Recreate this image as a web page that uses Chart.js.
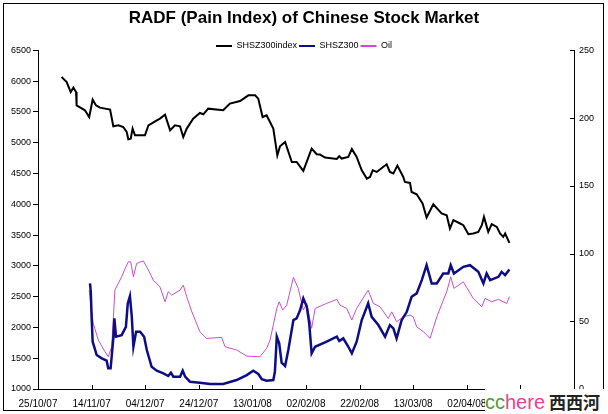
<!DOCTYPE html>
<html>
<head>
<meta charset="utf-8">
<script src="https://cdn.jsdelivr.net/npm/chart.js@4.4.1/dist/chart.umd.min.js"></script>
<style>
  html, body { margin: 0; padding: 0; background: #fff; }
  #wrap { position: relative; width: 608px; height: 414px; }
  #frame { position: absolute; left: 3px; top: 3px; width: 599px; height: 406px; border: 1px solid #000; pointer-events: none; }
  #mark { position: absolute; left: 485px; top: 389px; width: 123px; height: 25px; background: #fff;
          font-family: Arial, "Liberation Sans", sans-serif; font-size: 20px; line-height: 25px; white-space: nowrap; }
  #mark .cc { color: #4f9a3c; }
  #mark .here { color: #e2449a; }
  #mark .cn { font-family: "Noto Sans CJK SC", sans-serif; font-size: 17px; font-weight: bold; color: #222; margin-left: 4px; }
</style>
</head>
<body>
<div id="wrap">
  <canvas id="radfChart"></canvas>
  <div id="frame"></div>
  <div id="mark"><span class="cc">cc</span><span class="here">here</span><span class="cn">西西河</span></div>
</div>
<script>
// x values are days counted from 25/10/07
const indexDays = [8.8, 10.7, 12.2, 13.2, 14.2, 14.4, 16.3, 17.5, 19.1, 20.4, 21.6, 23.1, 26.9, 28.1, 30.0, 31.8, 33.1, 33.7, 34.6, 35.3, 36.2, 39.9, 41.2, 43.7, 45.5, 47.4, 49.3, 51.1, 53.0, 54.2, 55.5, 57.9, 60.4, 61.7, 63.5, 69.1, 71.6, 75.4, 78.5, 81.0, 82.2, 83.8, 85.3, 87.8, 89.3, 90.3, 92.2, 94.7, 96.5, 99.0, 102.1, 104.0, 105.2, 107.1, 111.5, 112.4, 113.3, 115.8, 117.1, 118.9, 120.8, 122.7, 123.9, 124.9, 126.4, 130.1, 131.3, 132.6, 134.1, 136.3, 136.9, 138.8, 139.4, 141.3, 143.5, 145.0, 147.5, 150.6, 152.5, 153.7, 155.0, 157.5, 158.7, 160.6, 162.4, 164.3, 165.6, 166.4, 168.0, 169.3, 171.2, 172.4, 173.6, 174.3, 175.9];
const indexValues = [6067, 5986, 5824, 5895, 5824, 5608, 5559, 5527, 5418, 5700, 5608, 5570, 5538, 5267, 5283, 5256, 5175, 5056, 5067, 5230, 5121, 5121, 5283, 5348, 5392, 5457, 5202, 5283, 5267, 5093, 5230, 5392, 5483, 5462, 5554, 5527, 5635, 5677, 5770, 5770, 5716, 5418, 5445, 5230, 4796, 4942, 5012, 4688, 4688, 4542, 4905, 4813, 4808, 4759, 4736, 4780, 4743, 4769, 4899, 4769, 4553, 4418, 4444, 4553, 4526, 4650, 4526, 4500, 4629, 4444, 4363, 4347, 4201, 4164, 4013, 3786, 4001, 3851, 3823, 3607, 3742, 3688, 3661, 3515, 3526, 3552, 3661, 3796, 3552, 3677, 3633, 3526, 3471, 3526, 3374];

const radfDays = [19.4, 19.7, 20.0, 20.4, 21.9, 23.8, 25.6, 26.2, 27.1, 28.1, 28.5, 29.1, 31.2, 32.8, 33.5, 34.3, 35.0, 35.6, 36.6, 38.1, 39.6, 40.6, 42.4, 44.3, 46.8, 48.6, 49.6, 50.5, 53.0, 54.0, 54.9, 56.7, 60.4, 64.2, 69.1, 74.1, 77.9, 80.3, 82.2, 83.5, 85.3, 87.8, 88.4, 89.1, 90.0, 90.9, 92.2, 93.4, 95.3, 96.5, 97.8, 99.0, 100.3, 101.2, 102.1, 103.4, 107.7, 111.5, 112.4, 113.9, 115.8, 117.1, 118.9, 120.8, 123.2, 124.5, 127.0, 129.5, 131.3, 132.6, 133.8, 135.7, 137.6, 139.4, 141.3, 143.2, 145.0, 146.9, 148.8, 151.2, 153.1, 154.0, 155.2, 158.7, 161.2, 164.3, 166.2, 167.4, 168.7, 171.8, 173.0, 174.3, 175.9];
const radfValues = [78.0, 71.8, 53.3, 34.9, 25.1, 22.6, 20.9, 15.3, 15.3, 37.4, 52.1, 38.6, 39.8, 45.9, 63.2, 68.6, 53.3, 31.2, 42.3, 42.3, 38.6, 28.8, 16.4, 13.5, 11.6, 9.6, 12.0, 9.1, 9.1, 13.5, 9.1, 5.4, 4.6, 3.7, 3.7, 6.6, 10.3, 13.5, 11.1, 7.2, 6.1, 6.6, 12.8, 38.6, 33.7, 19.4, 17.0, 28.8, 50.9, 52.1, 58.3, 66.9, 60.7, 48.5, 26.3, 31.2, 34.9, 38.6, 35.4, 37.4, 31.2, 26.3, 34.9, 50.9, 63.2, 53.3, 47.2, 38.6, 47.2, 44.8, 37.4, 50.9, 57.0, 68.1, 70.6, 80.4, 91.4, 77.9, 77.9, 85.3, 85.3, 91.4, 85.3, 90.2, 91.4, 86.5, 77.9, 85.3, 80.4, 82.8, 86.5, 84.1, 88.3];

const oilDays = [19.1, 20.6, 22.5, 25.0, 26.2, 27.5, 28.7, 31.2, 32.8, 33.7, 34.6, 35.6, 36.8, 39.3, 41.2, 43.0, 45.5, 47.4, 48.6, 49.9, 53.0, 54.2, 55.5, 57.4, 60.4, 62.9, 68.5, 69.8, 74.1, 77.9, 82.8, 85.3, 86.6, 89.1, 90.0, 91.3, 92.8, 95.3, 97.1, 99.0, 100.3, 102.1, 103.4, 107.7, 111.5, 112.7, 115.2, 117.1, 118.9, 123.2, 125.1, 127.6, 130.7, 132.0, 133.8, 136.3, 138.8, 140.0, 141.3, 143.8, 146.3, 148.8, 152.5, 154.0, 155.2, 158.7, 162.4, 165.6, 166.8, 169.3, 171.8, 174.9, 175.9];
const oilValues = [73.0, 48.5, 36.1, 27.5, 23.8, 31.2, 73.0, 82.8, 90.2, 93.9, 93.9, 82.8, 92.7, 94.6, 87.8, 80.4, 75.4, 64.4, 71.8, 69.3, 73.0, 76.7, 68.1, 57.0, 42.3, 37.4, 38.1, 31.2, 28.8, 24.3, 23.8, 30.0, 36.1, 59.5, 64.4, 58.3, 61.9, 82.4, 74.3, 58.3, 63.2, 44.8, 59.5, 63.2, 66.2, 61.9, 59.5, 50.9, 59.5, 73.0, 63.2, 60.7, 52.1, 57.0, 49.6, 53.3, 54.6, 53.3, 45.9, 42.3, 37.4, 53.3, 71.8, 82.8, 74.3, 79.1, 66.9, 60.7, 66.9, 64.4, 66.2, 63.2, 68.1];

const leftTicks = { min: 1000, max: 6500, step: 500 };
const rightTicks = { min: 0, max: 250, step: 50 };
const dayTicks = { min: 0, max: 200, step: 20 };
const startDate = Date.UTC(2007, 9, 25);

function pair(xs, ys) {
    return xs.map((x, i) => ({ x: x, y: ys[i] }));
}

function dayLabel(day) {
    const d = new Date(startDate + day * 86400000);
    const dd = String(d.getUTCDate()).padStart(2, '0');
    const mm = String(d.getUTCMonth() + 1).padStart(2, '0');
    const yy = String(d.getUTCFullYear()).slice(2);
    return dd + '/' + mm + '/' + yy;
}

// tick marks pointing into the plot (x axis and right axis)
const innerTicks = {
    id: 'innerTicks',
    afterDraw(chart) {
        const ctx = chart.ctx;
        const x = chart.scales.x;
        const y1 = chart.scales.y1;
        ctx.save();
        ctx.strokeStyle = '#000';
        ctx.lineWidth = 1;
        ctx.beginPath();
        x.ticks.forEach(t => {
            const px = Math.round(x.getPixelForValue(t.value)) + 0.5;
            ctx.moveTo(px, x.top);
            ctx.lineTo(px, x.top - 4);
        });
        y1.ticks.forEach(t => {
            const py = Math.round(y1.getPixelForValue(t.value)) + 0.5;
            ctx.moveTo(y1.left, py);
            ctx.lineTo(y1.left - 4, py);
        });
        ctx.stroke();
        ctx.restore();
    }
};

// keep the legend row short so the plot starts right under it
const legendHeight = {
    id: 'legendHeight',
    beforeLayout(chart) {
        const legend = chart.legend;
        if (legend && !legend._shortFit) {
            const fit = legend.fit;
            legend.fit = function () { fit.call(this); this.height = 11; };
            legend._shortFit = true;
        }
    }
};

const tickFont = { family: 'Arial, "Liberation Sans", sans-serif', size: 9 };

new Chart(document.getElementById('radfChart'), {
    type: 'line',
    data: {
        datasets: [{
            label: 'SHSZ300index',
            data: pair(indexDays, indexValues),
            yAxisID: 'y',
            borderColor: '#000000',
            backgroundColor: '#000000',
            borderWidth: 2
        }, {
            label: 'SHSZ300',
            data: pair(radfDays, radfValues),
            yAxisID: 'y1',
            borderColor: '#0d0d85',
            backgroundColor: '#0d0d85',
            borderWidth: 2.5
        }, {
            label: 'Oil',
            data: pair(oilDays, oilValues),
            yAxisID: 'y1',
            borderColor: '#c94fc9',
            backgroundColor: '#c94fc9',
            borderWidth: 1
        }]
    },
    options: {
        responsive: true,
        maintainAspectRatio: false,
        animation: false,
        parsing: false,
        elements: {
            point: { radius: 0, hoverRadius: 0 },
            line: { tension: 0 }
        },
        layout: { padding: 0 },
        plugins: {
            title: {
                display: true,
                text: 'RADF (Pain Index) of Chinese Stock Market',
                color: '#000',
                font: { family: 'Arial, "Liberation Sans", sans-serif', size: 17, weight: 'bold' },
                padding: { top: 8, bottom: 11 }
            },
            legend: {
                position: 'top',
                labels: {
                    color: '#000',
                    font: tickFont,
                    boxWidth: 16,
                    boxHeight: 2,
                    padding: 2,
                    generateLabels(chart) {
                        return Chart.defaults.plugins.legend.labels.generateLabels(chart)
                            .map(l => Object.assign(l, { lineWidth: 0 }));
                    }
                }
            },
            tooltip: { enabled: false }
        },
        scales: {
            x: {
                type: 'linear',
                min: dayTicks.min,
                max: dayTicks.max,
                afterFit(scale) { scale.height = 25; },
                grid: { display: false, drawTicks: false },
                border: { color: '#000', width: 1 },
                ticks: {
                    stepSize: dayTicks.step,
                    color: '#000',
                    font: { family: 'Arial, "Liberation Sans", sans-serif', size: 10 },
                    padding: 9,
                    maxRotation: 0,
                    autoSkip: false,
                    callback: v => dayLabel(v)
                }
            },
            y: {
                position: 'left',
                min: leftTicks.min,
                max: leftTicks.max,
                afterFit(scale) { scale.width = 38; },
                grid: { drawOnChartArea: false, drawTicks: true, tickLength: 5, color: '#000' },
                border: { color: '#000', width: 1 },
                ticks: { stepSize: leftTicks.step, color: '#000', font: tickFont, padding: 2, callback: v => String(v) }
            },
            y1: {
                position: 'right',
                min: rightTicks.min,
                max: rightTicks.max,
                afterFit(scale) { scale.width = 34; },
                grid: { display: false, drawTicks: false },
                border: { color: '#000', width: 1 },
                ticks: { stepSize: rightTicks.step, color: '#000', font: tickFont, padding: 5 }
            }
        }
    },
    plugins: [innerTicks, legendHeight]
});
</script>
</body>
</html>
